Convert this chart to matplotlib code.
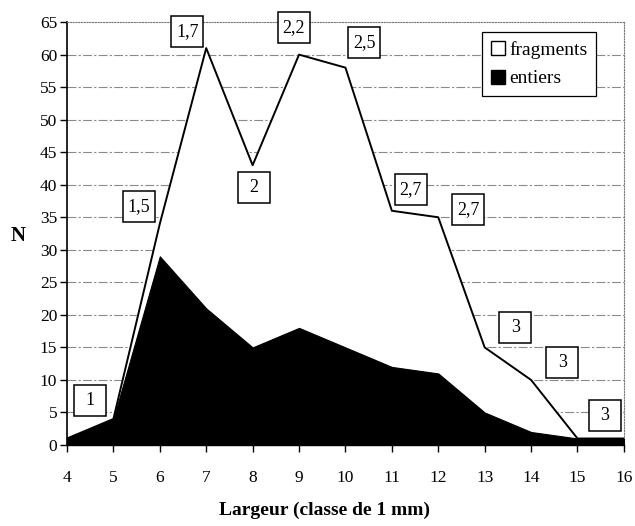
import matplotlib.pyplot as plt
from matplotlib.patches import Patch, Rectangle

plt.rcParams['font.family'] = ['Liberation Serif', 'DejaVu Serif']

# largeur classes (mm) and counts
largeur = [4, 5, 6, 7, 8, 9, 10, 11, 12, 13, 14, 15, 16]
total = [1, 4, 34, 61, 43, 60, 58, 36, 35, 15, 10, 1, 1]
entiers = [1, 4, 29, 21, 15, 18, 15, 12, 11, 5, 2, 1, 1]

# boxed annotations and where they sit
notes = ['1', '1,5', '1,7', '2', '2,2', '2,5', '2,7', '2,7', '3', '3', '3']
note_xy = [(4.50, 6.8), (5.55, 36.7), (6.59, 63.6), (8.03, 39.6), (8.89, 64.1),
           (10.40, 61.9), (11.41, 39.2), (12.64, 36.2), (13.66, 18.0),
           (14.67, 12.7), (15.59, 4.6)]

fig = plt.figure(figsize=(6.35, 5.26), dpi=100)
ax = fig.add_axes([0.1055, 0.154, 0.877, 0.804])

ax.set_xlim(4, 16)
ax.set_ylim(0, 65)
ax.set_xticks(range(4, 17))
ax.set_yticks(range(0, 66, 5))

# horizontal grid
for v in range(5, 65, 5):
    ax.axhline(v, color='#8a8a8a', lw=0.8, ls=(0, (8, 2, 2, 2)), zorder=1)

ax.fill_between(largeur, 0, total, facecolor='white', edgecolor='none', zorder=2)
ax.plot(largeur, total, color='black', lw=1.4, zorder=3)
ax.fill_between(largeur, 0, entiers, facecolor='black', edgecolor='black', lw=0.8, zorder=4)

# boxes with fixed size
bw, bh = 0.69, 4.76
for txt, (cx, cy) in zip(notes, note_xy):
    ax.add_patch(Rectangle((cx - bw / 2, cy - bh / 2), bw, bh, facecolor='white',
                           edgecolor='black', lw=1.1, zorder=6, clip_on=False))
    ax.text(cx, cy, txt, ha='center', va='center', fontsize=13, zorder=7, clip_on=False)

for side in ['top', 'right']:
    ax.spines[side].set_linestyle((0, (1, 1.5)))
    ax.spines[side].set_color('#777777')
    ax.spines[side].set_linewidth(0.8)
ax.spines['left'].set_linewidth(1.2)
ax.spines['bottom'].set_linewidth(1.0)
ax.spines['bottom'].set_linestyle((0, (1, 1)))

ax.tick_params(axis='both', direction='out', length=5, width=1, labelsize=12.5, colors='black')
ax.tick_params(axis='x', pad=13)
ax.tick_params(axis='y', pad=2)

handles = [Patch(facecolor='white', edgecolor='black', lw=1, label='fragments'),
           Patch(facecolor='black', edgecolor='black', lw=1, label='entiers')]
leg = ax.legend(handles=handles, loc='upper right', bbox_to_anchor=(0.95, 0.976),
                fancybox=False, framealpha=1, edgecolor='black', fontsize=14,
                handlelength=0.75, handleheight=0.75, handletextpad=0.2,
                borderpad=0.45, labelspacing=0.55, borderaxespad=0)
leg.get_frame().set_linewidth(0.9)
leg.set_zorder(8)

fig.text(0.028, 0.552, 'N', fontsize=15, fontweight='bold', ha='center', va='center')
fig.text(0.511, 0.030, 'Largeur (classe de 1 mm)', fontsize=14, fontweight='bold',
         ha='center', va='center')

fig.savefig('out.png', dpi=100)
